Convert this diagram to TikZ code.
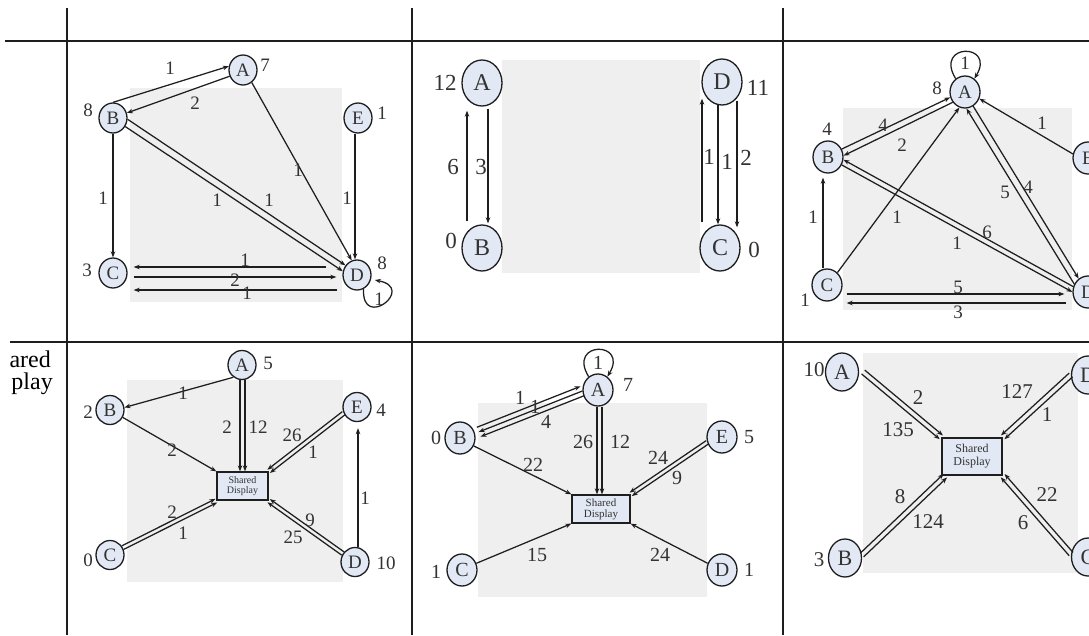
\documentclass[tikz,border=0pt]{standalone}
\usepackage{fontspec}
\setmainfont{Liberation Serif}
\usetikzlibrary{shapes.geometric,arrows.meta,calc}
\definecolor{nfill}{HTML}{E2E9F5}
\definecolor{bg}{HTML}{EFEFEF}
\definecolor{ink}{HTML}{1E1E1E}
\definecolor{txt}{HTML}{333333}
\tikzset{
 arr/.style={draw=ink, line width=1.25pt, -{Stealth[length=6pt,width=4.5pt]}},
 gbox/.style={fill=bg, draw=none},
 vnode/.style={ellipse, draw=ink, line width=1.3pt, fill=nfill, inner sep=0pt, text=txt},
 sza/.style={minimum width=28pt, minimum height=30pt, font=\fontsize{19}{19}\selectfont},
 szb/.style={minimum width=40pt, minimum height=46pt, font=\fontsize{24}{24}\selectfont},
 szc/.style={minimum width=30pt, minimum height=32pt, font=\fontsize{19}{19}\selectfont},
 szd/.style={minimum width=28pt, minimum height=29pt, font=\fontsize{19}{19}\selectfont},
 sze/.style={minimum width=30pt, minimum height=32pt, font=\fontsize{20}{20}\selectfont},
 szf/.style={minimum width=33pt, minimum height=38pt, font=\fontsize{22}{22}\selectfont},
 wt/.style={text=txt, inner sep=0pt},
 sdbox/.style={rectangle, draw=ink, line width=1.3pt, fill=nfill, inner sep=0pt, align=center, text=txt},
 grid/.style={draw=ink, line width=1.6pt},
 hgrid/.style={draw=ink, line width=2.6pt}
}
\begin{document}
\begin{tikzpicture}[x=1pt,y=-1pt]
\useasboundingbox (0,0) rectangle (1089,635);
\clip (0,0) rectangle (1089,635);
\fill[white] (0,0) rectangle (1089,635);

% grey backgrounds
\fill[gbox] (130,88) rectangle (342,302);
\fill[gbox] (502,60) rectangle (700,273);
\fill[gbox] (843,108) rectangle (1072,310);
\fill[gbox] (127,380) rectangle (343,582);
\fill[gbox] (478,403) rectangle (707,597);
\fill[gbox] (863,353) rectangle (1078,573);

% table lines
\draw[hgrid] (5,41) -- (1089,41);
\draw[hgrid] (10,342) -- (1089,342);
\draw[grid] (67,8) -- (67,635);
\draw[grid] (412,8) -- (412,635);
\draw[grid] (783,8) -- (783,635);

% row header fragment
\node[anchor=base east, inner sep=0pt, font=\fontsize{24}{24}\selectfont] (hdr1) at (51,367) {ared};
\node[anchor=base east, inner sep=0pt, font=\fontsize{24}{24}\selectfont] (hdr2) at (53,389) {play};

% ================= cell 1 =================
\begin{scope}[every node/.append style={font=\fontsize{19}{19}\selectfont}]
\node[vnode,sza] (c1A) at (243,70) {A};
\node[vnode,sza] (c1B) at (113,118) {B};
\node[vnode,sza] (c1C) at (113,273) {C};
\node[vnode,sza] (c1D) at (357,275) {D};
\node[vnode,sza] (c1E) at (358,118) {E};
\node[wt] (w1A) at (265,65) {7};
\node[wt] (w1B) at (88,110) {8};
\node[wt] (w1E) at (382,113) {1};
\node[wt] (w1C) at (87,270) {3};
\node[wt] (w1D) at (382,263) {8};
\draw[arr] (c1B.north) -- (c1A.165);
\draw[arr] (c1A.205) -- (c1B.20);
\draw[arr] (c1A.-55) -- (c1D.110);
\draw[arr] (c1B.-5) -- (c1D.140);
\draw[arr] (c1B.-35) -- (c1D.165);
\draw[arr] (c1B.south) -- (c1C.north);
\draw[arr] ([shift={(-3,0)}]c1E.south) -- ([shift={(-2,0)}]c1D.north);
\draw[arr] ([shift={(-16,-8)}]c1D.west) -- ([shift={(6,-6)}]c1C.east);
\draw[arr] ([shift={(6,4)}]c1C.east) -- ([shift={(-6,2)}]c1D.west);
\draw[arr] ([shift={(-5,15)}]c1D.west) -- ([shift={(6,17)}]c1C.east);
\draw[arr] (c1D.-65) .. controls +(-2,42) and +(42,8) .. ([shift={(4,0)}]c1D.-20);
\node[wt] (l1a) at (170,68) {1};
\node[wt] (l1b) at (195,103) {2};
\node[wt] (l1c) at (298,170) {1};
\node[wt] (l1d) at (269,200) {1};
\node[wt] (l1e) at (217,200) {1};
\node[wt] (l1f) at (103,198) {1};
\node[wt] (l1g) at (347,198) {1};
\node[wt] (l1h) at (245,260) {1};
\node[wt] (l1i) at (235,280) {2};
\node[wt] (l1j) at (247,293) {1};
\node[wt] (l1k) at (379,299) {1};
\end{scope}

% ================= cell 2 =================
\begin{scope}[every node/.append style={font=\fontsize{23}{23}\selectfont}]
\node[vnode,szb] (c2A) at (482,83) {A};
\node[vnode,szb] (c2B) at (482,248) {B};
\node[vnode,szb] (c2D) at (722,82) {D};
\node[vnode,szb] (c2C) at (720,248) {C};
\node[wt] (w2A) at (445,83) {12};
\node[wt] (w2B) at (451,241) {0};
\node[wt] (w2D) at (758,88) {11};
\node[wt] (w2C) at (754,250) {0};
\draw[arr] ([shift={(-15,-3)}]c2B.north) -- ([shift={(-15,4)}]c2A.south);
\draw[arr] ([shift={(6,2)}]c2A.south) -- ([shift={(6,-1)}]c2B.north);
\draw[arr] ([shift={(-18,-2)}]c2C.north) -- ([shift={(-20,-7)}]c2D.south);
\draw[arr] ([shift={(-4,-2)}]c2D.south) -- ([shift={(-2,0)}]c2C.north);
\draw[arr] ([shift={(15,-5)}]c2D.south) -- ([shift={(17,3)}]c2C.north);
\node[wt] (l2a) at (453,167) {6};
\node[wt] (l2b) at (481,167) {3};
\node[wt] (l2c) at (709,157) {1};
\node[wt] (l2d) at (727,162) {1};
\node[wt] (l2e) at (746,158) {2};
\end{scope}

% ================= cell 3 =================
\begin{scope}[every node/.append style={font=\fontsize{19}{19}\selectfont}]
\node[vnode,szc] (c3A) at (965,92) {A};
\node[vnode,szc] (c3B) at (828,157) {B};
\node[vnode,szc] (c3C) at (827,285) {C};
\node[vnode,szc] (c3D) at (1088,292) {D};
\node[vnode,szc] (c3E) at (1088,158) {E};
\node[wt] (w3A) at (937,88) {8};
\node[wt] (w3B) at (827,129) {4};
\node[wt] (w3C) at (805,300) {1};
\draw[arr] (c3A.125) .. controls +(-22,-36) and +(22,-36) .. (c3A.55);
\draw[arr] (c3B.30) -- (c3A.200);
\draw[arr] (c3A.220) -- (c3B.5);
\draw[arr] (c3C.50) -- (c3A.250);
\draw[arr] ([shift={(-4,0)}]c3C.north) -- ([shift={(-5,4)}]c3B.south);
\draw[arr] (c3D.150) -- (c3A.-85);
\draw[arr] (c3A.-60) -- (c3D.125);
\draw[arr] (c3D.160) -- (c3B.-10);
\draw[arr] (c3B.-30) -- (c3D.180);
\draw[arr] (c3E.165) -- (c3A.-25);
\draw[arr] ([shift={(4,9)}]c3C.east) -- ([shift={(-8,2)}]c3D.west);
\draw[arr] ([shift={(-6,11)}]c3D.west) -- ([shift={(4,18)}]c3C.east);
\node[wt] (l3a) at (965,63) {1};
\node[wt] (l3b) at (883,125) {4};
\node[wt] (l3c) at (902,145) {2};
\node[wt] (l3d) at (897,217) {1};
\node[wt] (l3e) at (813,217) {1};
\node[wt] (l3f) at (1005,192) {5};
\node[wt] (l3g) at (1028,187) {4};
\node[wt] (l3h) at (957,243) {1};
\node[wt] (l3i) at (987,232) {6};
\node[wt] (l3j) at (1042,123) {1};
\node[wt] (l3k) at (958,287) {5};
\node[wt] (l3l) at (958,312) {3};
\end{scope}

% ================= cell 4 =================
\begin{scope}[every node/.append style={font=\fontsize{19}{19}\selectfont}]
\node[vnode,szd] (c4A) at (242,365) {A};
\node[vnode,szd] (c4B) at (110,410) {B};
\node[vnode,szd] (c4E) at (357,407) {E};
\node[vnode,szd] (c4C) at (110,555) {C};
\node[vnode,szd] (c4D) at (355,562) {D};
\node[sdbox, minimum width=51pt, minimum height=28pt, font=\fontsize{10}{10.5}\selectfont] (c4S) at (242.5,486) {Shared\\Display};
\node[wt] (w4A) at (268,363) {5};
\node[wt] (w4B) at (88,412) {2};
\node[wt] (w4E) at (381,410) {4};
\node[wt] (w4C) at (88,560) {0};
\node[wt] (w4D) at (386,563) {10};
\draw[arr] (c4A.235) -- (c4B.10);
\draw[arr] ([shift={(-2,0)}]c4A.south) -- ([shift={(-2.5,0)}]c4S.north);
\draw[arr] ([shift={(3,0)}]c4A.south) -- ([shift={(2.5,0)}]c4S.north);
\draw[arr] (c4B.-30) -- (c4S.north west);
\draw[arr] ([shift={(-1.3,-1.6)}]c4E.205) -- ([shift={(-1.3,-1.6)}]c4S.north east);
\draw[arr] ([shift={(1.3,1.6)}]c4E.205) -- ([shift={(1.3,1.6)}]c4S.north east);
\draw[arr] ([shift={(-0.9,-1.8)}]c4C.30) -- ([shift={(-0.9,-1.8)}]c4S.south west);
\draw[arr] ([shift={(0.9,1.8)}]c4C.30) -- ([shift={(0.9,1.8)}]c4S.south west);
\draw[arr] ([shift={(1.2,-1.6)}]c4D.145) -- ([shift={(1.2,-1.6)}]c4S.south east);
\draw[arr] ([shift={(-1.2,1.6)}]c4D.145) -- ([shift={(-1.2,1.6)}]c4S.south east);
\draw[arr] ([shift={(3,0)}]c4D.north) -- ([shift={(1,6)}]c4E.south);
\node[wt] (l4a) at (183,393) {1};
\node[wt] (l4b) at (227,427) {2};
\node[wt] (l4c) at (258,427) {12};
\node[wt] (l4d) at (172,450) {2};
\node[wt] (l4e) at (292,435) {26};
\node[wt] (l4f) at (313,452) {1};
\node[wt] (l4g) at (172,512) {2};
\node[wt] (l4h) at (183,533) {1};
\node[wt] (l4i) at (310,520) {9};
\node[wt] (l4j) at (293,537) {25};
\node[wt] (l4k) at (365,498) {1};
\end{scope}

% ================= cell 5 =================
\begin{scope}[every node/.append style={font=\fontsize{20}{20}\selectfont}]
\node[vnode,sze] (c5A) at (598,390) {A};
\node[vnode,sze] (c5B) at (460,438) {B};
\node[vnode,sze] (c5E) at (722,437) {E};
\node[vnode,sze] (c5C) at (462,570) {C};
\node[vnode,sze] (c5D) at (722,570) {D};
\node[sdbox, minimum width=58pt, minimum height=28pt, font=\fontsize{11}{11}\selectfont] (c5S) at (601,509) {Shared\\Display};
\node[wt] (w5A) at (628,385) {7};
\node[wt] (w5B) at (436,438) {0};
\node[wt] (w5E) at (749,437) {5};
\node[wt] (w5C) at (436,572) {1};
\node[wt] (w5D) at (749,570) {1};
\draw[arr] (c5A.125) .. controls +(-22,-36) and +(22,-36) .. (c5A.55);
\draw[arr] ([shift={(1.2,-10.7)}]c5B.east) -- ([shift={(-1.8,-3.7)}]c5A.west);
\draw[arr] ([shift={(0,1)}]c5A.west) -- ([shift={(3,-6)}]c5B.east);
\draw[arr] ([shift={(1.8,5.7)}]c5A.west) -- ([shift={(4.8,-1.3)}]c5B.east);
\draw[arr] ([shift={(-1,0)}]c5A.south) -- ([shift={(-4,0)}]c5S.north);
\draw[arr] ([shift={(4,0)}]c5A.south) -- ([shift={(1,0)}]c5S.north);
\draw[arr] (c5B.-30) -- (c5S.north west);
\draw[arr] ([shift={(-1.1,-1.7)}]c5E.200) -- ([shift={(-1.1,-1.7)}]c5S.north east);
\draw[arr] ([shift={(1.1,1.7)}]c5E.200) -- ([shift={(1.1,1.7)}]c5S.north east);
\draw[arr] (c5C.25) -- (c5S.south west);
\draw[arr] (c5D.155) -- (c5S.south east);
\node[wt] (l5z) at (598,363) {1};
\node[wt] (l5a) at (520,398) {1};
\node[wt] (l5b) at (535,407) {1};
\node[wt] (l5c) at (546,422) {4};
\node[wt] (l5d) at (583,442) {26};
\node[wt] (l5e) at (620,442) {12};
\node[wt] (l5f) at (533,465) {22};
\node[wt] (l5g) at (658,458) {24};
\node[wt] (l5h) at (677,478) {9};
\node[wt] (l5i) at (537,555) {15};
\node[wt] (l5j) at (660,555) {24};
\end{scope}

% ================= cell 6 =================
\begin{scope}[every node/.append style={font=\fontsize{21}{21}\selectfont}]
\node[vnode,szf] (c6A) at (842,372) {A};
\node[vnode,szf] (c6B) at (845,558) {B};
\node[vnode,szf] (c6D) at (1088,375) {D};
\node[vnode,szf] (c6C) at (1088,557) {C};
\node[sdbox, minimum width=60pt, minimum height=37pt, font=\fontsize{12}{13}\selectfont] (c6S) at (972,456.5) {Shared\\Display};
\node[wt] (w6A) at (814,370) {10};
\node[wt] (w6B) at (819,560) {3};
\draw[arr] ([shift={(5.6,-1.9)}]c6A.east) -- ([shift={(1.6,-1.9)}]c6S.north west);
\draw[arr] ([shift={(2.4,1.9)}]c6A.east) -- ([shift={(-1.6,1.9)}]c6S.north west);
\draw[arr] ([shift={(-1.7,-1.8)}]c6B.10) -- ([shift={(2.3,-1.8)}]c6S.south west);
\draw[arr] ([shift={(1.7,1.8)}]c6B.10) -- ([shift={(5.7,1.8)}]c6S.south west);
\draw[arr] ([shift={(-1.7,-1.9)}]c6D.west) -- ([shift={(-1.7,-1.9)}]c6S.north east);
\draw[arr] ([shift={(1.7,1.9)}]c6D.west) -- ([shift={(1.7,1.9)}]c6S.north east);
\draw[arr] ([shift={(1.9,-1.65)}]c6C.170) -- ([shift={(1.9,-1.65)}]c6S.south east);
\draw[arr] ([shift={(-1.9,1.65)}]c6C.170) -- ([shift={(-1.9,1.65)}]c6S.south east);
\node[wt] (l6a) at (918,398) {2};
\node[wt] (l6b) at (898,430) {135};
\node[wt] (l6c) at (900,497) {8};
\node[wt] (l6d) at (928,522) {124};
\node[wt] (l6e) at (1017,392) {127};
\node[wt] (l6f) at (1047,415) {1};
\node[wt] (l6g) at (1047,495) {22};
\node[wt] (l6h) at (1023,523) {6};
\end{scope}
\end{tikzpicture}
\end{document}
